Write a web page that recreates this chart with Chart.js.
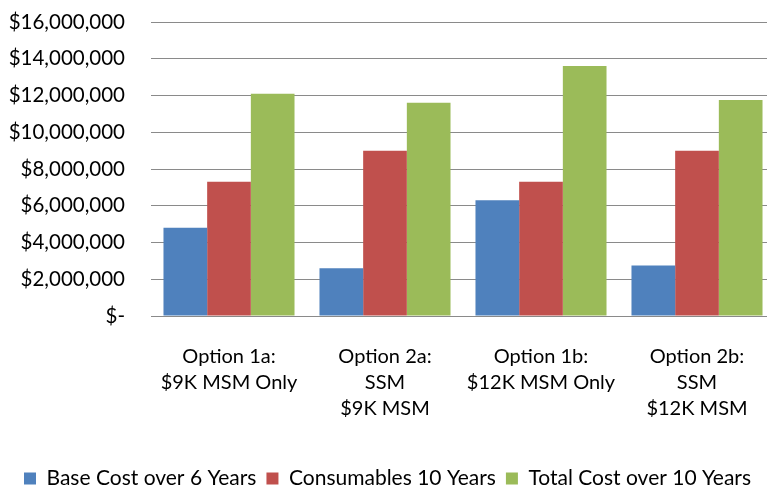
<!DOCTYPE html>
<html>
<head>
<meta charset="utf-8">
<script src="https://cdn.jsdelivr.net/npm/chart.js@4"></script>
<style>
  html, body { margin: 0; padding: 0; background: #fff; overflow: hidden; }
  #wrap { width: 767px; height: 485px; position: relative; overflow: hidden; }
  #c { position: absolute; left: 0; top: 0; }
</style>
</head>
<body>
<div id="wrap"><canvas id="c" width="775" height="485"></canvas></div>
<script>
const categories = [
  ["Option 1a:", "$9K MSM Only"],
  ["Option 2a:", "SSM", "$9K MSM"],
  ["Option 1b:", "$12K MSM Only"],
  ["Option 2b:", "SSM", "$12K MSM"]
];
const seriesNames = ["Base Cost over 6 Years", "Consumables 10 Years", "Total Cost over 10 Years"];
const baseCost = [4800000, 2600000, 6300000, 2750000];
const consumables = [7300000, 9000000, 7300000, 9000000];
const totalCost = [12100000, 11600000, 13600000, 11750000];
const yTicks = [0, 2000000, 4000000, 6000000, 8000000, 10000000, 12000000, 14000000, 16000000];
const colors = ["#4F81BD", "#C0504D", "#9BBB59"];

const FONT = "Lato, 'Open Sans', sans-serif";
const TXT = "#000000";
const GRID = "#8a8a8a";

new Chart(document.getElementById('c'), {
  type: 'bar',
  data: {
    labels: categories,
    datasets: [
      { label: seriesNames[0], data: baseCost, backgroundColor: colors[0] },
      { label: seriesNames[1], data: consumables, backgroundColor: colors[1] },
      { label: seriesNames[2], data: totalCost, backgroundColor: colors[2] }
    ]
  },
  options: {
    responsive: false,
    animation: false,
    devicePixelRatio: 1,
    layout: { padding: { top: 22, right: 0, bottom: -14, left: 0 } },
    datasets: { bar: { categoryPercentage: 0.84, barPercentage: 1.0 } },
    plugins: {
      legend: {
        position: 'bottom',
        labels: {
          font: { family: FONT, size: 21, lineHeight: 1.0 },
          color: TXT,
          boxWidth: 12,
          boxHeight: 12,
          padding: 10
        }
      },
      tooltip: { enabled: false }
    },
    scales: {
      x: {
        grid: { display: false, drawTicks: false },
        border: { display: true, color: GRID, width: 1 },
        ticks: {
          font: { family: FONT, size: 20, lineHeight: 1.3 },
          color: TXT,
          padding: 28,
          maxRotation: 0,
          autoSkip: false
        },
        afterFit: (s) => { s.height = 142; s.paddingLeft = 0; s.paddingRight = 0; }
      },
      y: {
        min: 0,
        max: 16000000,
        border: { display: false },
        grid: { color: GRID, lineWidth: 1, drawTicks: false },
        afterBuildTicks: (s) => { s.ticks = yTicks.map(v => ({ value: v })); },
        ticks: {
          font: { family: FONT, size: 20.5 },
          color: TXT,
          padding: 26,
          callback: (v) => v === 0 ? "$-" : "$" + v.toLocaleString('en-US')
        },
        afterFit: (s) => { s.width = 151; s.paddingTop = 0; s.paddingBottom = 0; }
      }
    }
  }
});
</script>
</body>
</html>
